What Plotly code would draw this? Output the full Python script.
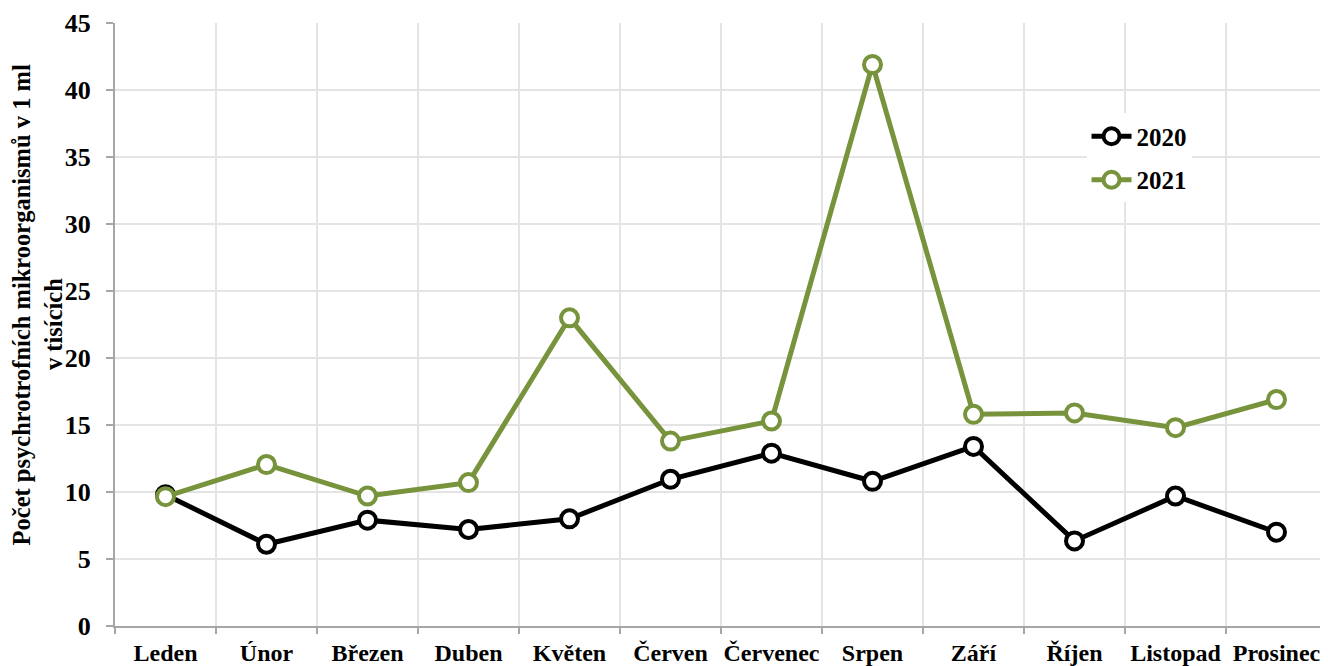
import plotly.graph_objects as go

months = ["Leden", "Únor", "Březen", "Duben", "Květen", "Červen",
          "Červenec", "Srpen", "Září", "Říjen", "Listopad", "Prosinec"]
vals_2020 = [9.8, 6.1, 7.9, 7.2, 8.0, 10.95, 12.9, 10.8, 13.4, 6.35, 9.7, 7.0]
vals_2021 = [9.65, 12.05, 9.7, 10.7, 23.0, 13.8, 15.3, 41.9, 15.8, 15.9, 14.8, 16.9]
y_ticks = [0, 5, 10, 15, 20, 25, 30, 35, 40, 45]
y_title_lines = ["Počet psychrotrofních mikroorganismů v 1 ml", "v tisících"]

FONT = "Liberation Serif"

fig = go.Figure()
fig.add_trace(go.Scatter(
    x=months, y=vals_2020, name="<b>2020</b>", mode="lines+markers",
    legendgroup="a",
    line=dict(color="#000000", width=5),
    marker=dict(symbol="circle", size=17, color="white",
                line=dict(color="#000000", width=4)),
))
fig.add_trace(go.Scatter(
    x=months, y=vals_2021, name="<b>2021</b>", mode="lines+markers",
    legendgroup="b",
    line=dict(color="#77933C", width=5),
    marker=dict(symbol="circle", size=17, color="white",
                line=dict(color="#77933C", width=4)),
))

title_pos = [(-0.0774, 0.532), (-0.0502, 0.501)]
annotations = [dict(
    text=f"<b>{t}</b>", xref="paper", yref="paper", x=px, y=py,
    xanchor="center", yanchor="middle", textangle=-90, showarrow=False,
    font=dict(family=FONT, size=24.5, color="black"),
) for t, (px, py) in zip(y_title_lines, title_pos)]

fig.update_layout(
    width=1328, height=666,
    margin=dict(l=107, r=9, t=15, b=48, autoexpand=False),
    paper_bgcolor="white", plot_bgcolor="white",
    font=dict(family=FONT, color="black", size=24),
    showlegend=True,
    legend=dict(x=0.8016, y=0.85, xanchor="left", yanchor="top",
                bgcolor="white", font=dict(family=FONT, size=25, color="black"),
                itemwidth=40, tracegroupgap=8),
    annotations=annotations,
)
fig.update_xaxes(
    type="category", range=[-0.5, 11.5], automargin=False, tickangle=0,
    tickson="boundaries", ticks="outside", ticklen=6, tickcolor="#a6a6a6",
    tickwidth=2, ticklabelstandoff=4,
    showgrid=True, gridcolor="#e4e4e4", gridwidth=1.5,
    showline=True, linecolor="#a6a6a6", linewidth=2,
    tickfont=dict(family=FONT, size=24, color="black", weight="bold"),
)
fig.update_yaxes(
    range=[0, 45], tickvals=y_ticks, ticktext=[f"<b>{v}</b>" for v in y_ticks],
    automargin=False,
    ticks="outside", ticklen=7, tickcolor="#a6a6a6", tickwidth=2,
    showgrid=True, gridcolor="#e4e4e4", gridwidth=1.5,
    showline=True, linecolor="#a6a6a6", linewidth=2,
    zeroline=False,
    tickfont=dict(family=FONT, size=26, color="black"),
    ticklabelstandoff=10,
)

fig.write_html("out.html")
